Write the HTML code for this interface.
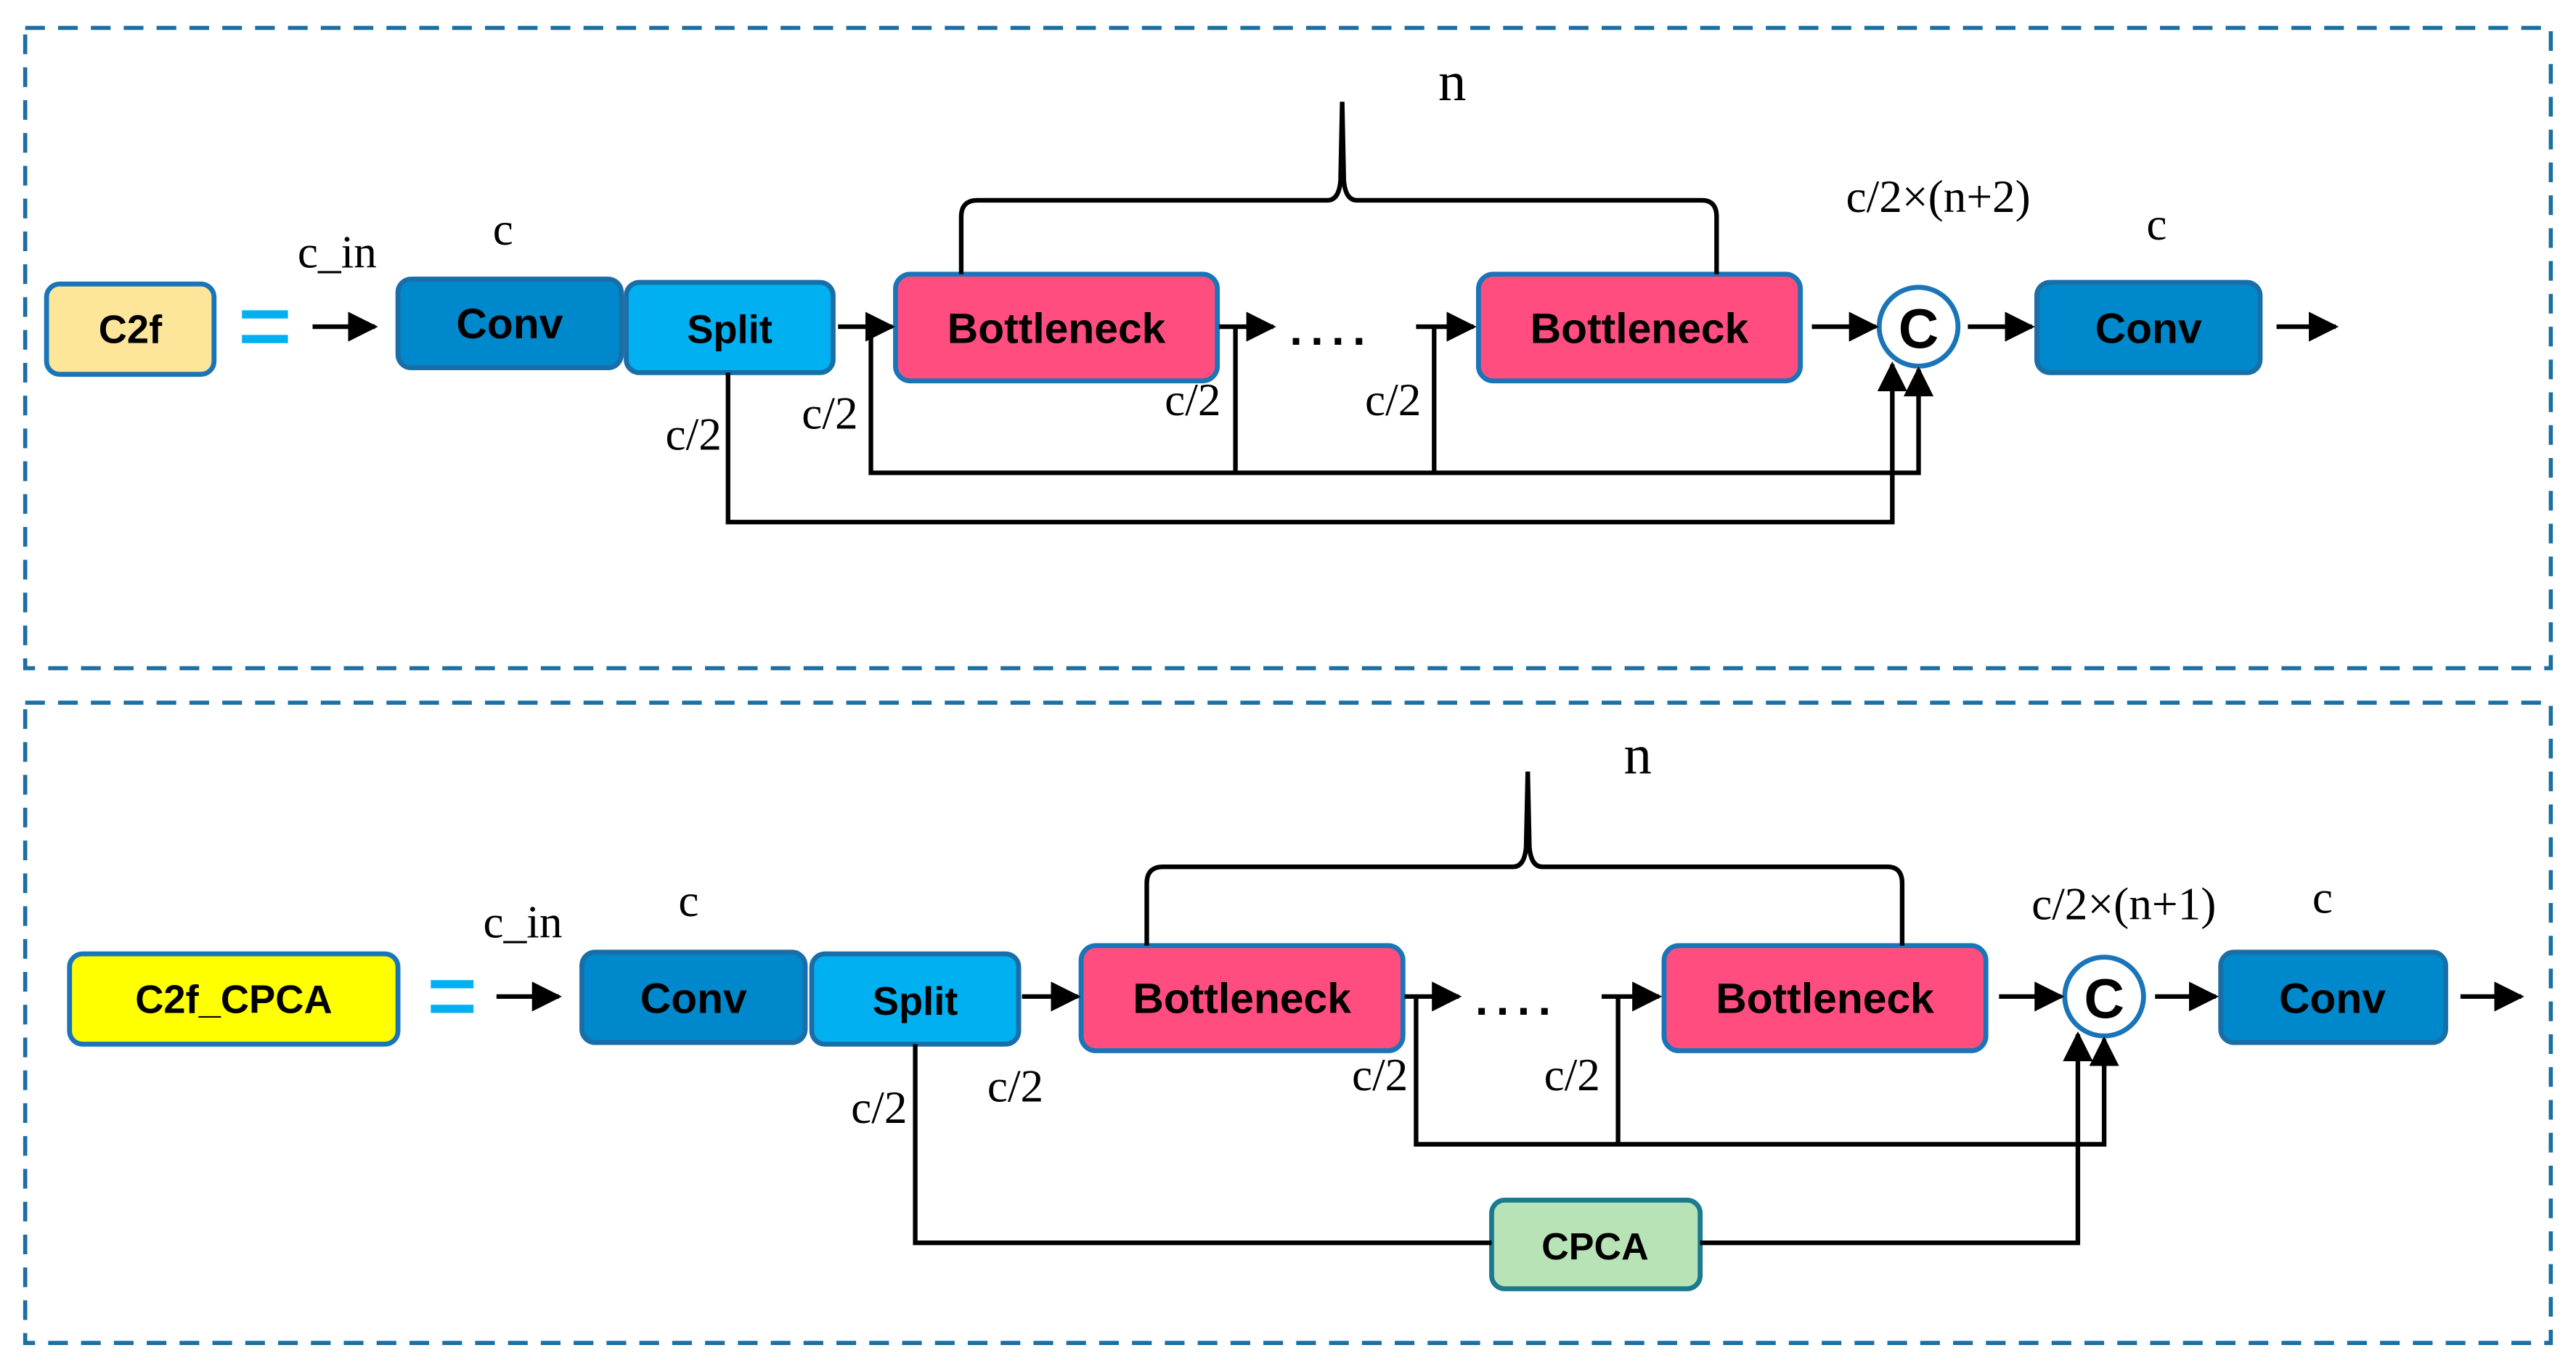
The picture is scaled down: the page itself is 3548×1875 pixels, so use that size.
<!DOCTYPE html>
<html><head><meta charset="utf-8"><style>html,body{margin:0;padding:0;background:#fff}svg{display:block}</style></head>
<body>
<svg width="3548" height="1875" viewBox="0 0 1568 829" xmlns="http://www.w3.org/2000/svg">
<defs>
<marker id="ah" viewBox="0 0 10 10" refX="9" refY="5" markerWidth="6.5" markerHeight="6.5" orient="auto" markerUnits="strokeWidth"><path d="M0,0 L10,5 L0,10 z" fill="#000"/></marker>
</defs>
<rect x="15" y="17" width="1538" height="390" fill="none" stroke="#1b6fa3" stroke-width="2.5" stroke-dasharray="12,8"/>
<rect x="15" y="428" width="1538" height="390" fill="none" stroke="#1b6fa3" stroke-width="2.5" stroke-dasharray="12,8"/>

<g font-family="'Liberation Sans', sans-serif" font-weight="bold" text-anchor="middle" fill="#000">
<rect x="28" y="173" width="102" height="55" rx="8" fill="#fde59a" stroke="#1a75b8" stroke-width="3"/>
<text x="79" y="209" font-size="24">C2f</text>
<rect x="147" y="189" width="28" height="5" fill="#00b0f0"/><rect x="147" y="204" width="28" height="5" fill="#00b0f0"/>
<rect x="242" y="170" width="136" height="54" rx="8" fill="#0088cc" stroke="#1a6ea8" stroke-width="3"/>
<text x="310" y="206" font-size="26">Conv</text>
<rect x="381" y="172" width="126" height="55" rx="8" fill="#00b0f0" stroke="#1a6ea8" stroke-width="3"/>
<text x="444" y="209" font-size="24">Split</text>
<rect x="545" y="167" width="196" height="65" rx="9" fill="#ff4d80" stroke="#1a75b8" stroke-width="3"/>
<text x="643" y="209" font-size="26">Bottleneck</text>
<rect x="900" y="167" width="196" height="65" rx="9" fill="#ff4d80" stroke="#1a75b8" stroke-width="3"/>
<text x="998" y="209" font-size="26">Bottleneck</text>
<circle cx="1168" cy="199" r="24" fill="#fff" stroke="#1a75b8" stroke-width="3"/>
<text x="1168" y="212" font-size="34">C</text>
<rect x="1240" y="172" width="136" height="55" rx="8" fill="#0088cc" stroke="#1a6ea8" stroke-width="3"/>
<text x="1308" y="209" font-size="26">Conv</text>
<rect x="42" y="581" width="200" height="55" rx="8" fill="#ffff00" stroke="#1a75b8" stroke-width="3"/>
<text x="142" y="617" font-size="24">C2f_CPCA</text>
<rect x="262" y="597" width="26" height="5" fill="#00b0f0"/><rect x="262" y="612" width="26" height="5" fill="#00b0f0"/>
<rect x="354" y="580" width="136" height="55" rx="8" fill="#0088cc" stroke="#1a6ea8" stroke-width="3"/>
<text x="422" y="617" font-size="26">Conv</text>
<rect x="494" y="581" width="126" height="55" rx="8" fill="#00b0f0" stroke="#1a6ea8" stroke-width="3"/>
<text x="557" y="618" font-size="24">Split</text>
<rect x="658" y="576" width="196" height="64" rx="9" fill="#ff4d80" stroke="#1a75b8" stroke-width="3"/>
<text x="756" y="617" font-size="26">Bottleneck</text>
<rect x="1013" y="576" width="196" height="64" rx="9" fill="#ff4d80" stroke="#1a75b8" stroke-width="3"/>
<text x="1111" y="617" font-size="26">Bottleneck</text>
<circle cx="1281" cy="607" r="24" fill="#fff" stroke="#1a75b8" stroke-width="3"/>
<text x="1281" y="620" font-size="34">C</text>
<rect x="1352" y="580" width="137" height="55" rx="8" fill="#0088cc" stroke="#1a6ea8" stroke-width="3"/>
<text x="1420" y="617" font-size="26">Conv</text>
<rect x="908" y="731" width="127" height="54" rx="8" fill="#b8e3b6" stroke="#1a7a90" stroke-width="3"/>
<text x="971" y="767" font-size="23">CPCA</text>
</g>

<g stroke="#000" stroke-width="2.8" fill="none">
<line x1="190" y1="199" x2="228" y2="199" marker-end="url(#ah)"/>
<line x1="510" y1="199" x2="543" y2="199" marker-end="url(#ah)"/>
<line x1="742" y1="199" x2="775" y2="199" marker-end="url(#ah)"/>
<line x1="862" y1="199" x2="897" y2="199" marker-end="url(#ah)"/>
<line x1="1103" y1="199" x2="1142" y2="199" marker-end="url(#ah)"/>
<line x1="1198" y1="199" x2="1237" y2="199" marker-end="url(#ah)"/>
<line x1="1386" y1="199" x2="1422" y2="199" marker-end="url(#ah)"/>
<polyline points="443,227 443,318 1152,318 1152,222" marker-end="url(#ah)"/>
<polyline points="530,199 530,288 1168,288 1168,225" marker-end="url(#ah)"/>
<line x1="752" y1="199" x2="752" y2="288"/>
<line x1="873" y1="199" x2="873" y2="288"/>
<path d="M585,167 L585,132 Q585,122 595,122 L808,122 Q815,122 816,110 L817,62 L818,110 Q819,122 826,122 L1036,122 Q1045,122 1045,132 L1045,167"/>
<line x1="302" y1="607" x2="340" y2="607" marker-end="url(#ah)"/>
<line x1="622" y1="607" x2="656" y2="607" marker-end="url(#ah)"/>
<line x1="855" y1="607" x2="888" y2="607" marker-end="url(#ah)"/>
<line x1="975" y1="607" x2="1010" y2="607" marker-end="url(#ah)"/>
<line x1="1217" y1="607" x2="1255" y2="607" marker-end="url(#ah)"/>
<line x1="1312" y1="607" x2="1349" y2="607" marker-end="url(#ah)"/>
<line x1="1498" y1="607" x2="1535" y2="607" marker-end="url(#ah)"/>
<polyline points="557,636 557,757 908,757"/>
<polyline points="1035,757 1265,757 1265,630" marker-end="url(#ah)"/>
<polyline points="862,607 862,697 1281,697 1281,633" marker-end="url(#ah)"/>
<line x1="985" y1="607" x2="985" y2="697"/>
<path d="M698,576 L698,538 Q698,528 708,528 L921,528 Q928,528 929,516 L930,470 L931,516 Q932,528 939,528 L1149,528 Q1158,528 1158,538 L1158,576"/>
</g>

<g font-family="'Liberation Sans', sans-serif" font-weight="bold" font-size="28" fill="#000">
<text x="785" y="210" letter-spacing="5">....</text>
<text x="898" y="618" letter-spacing="5">....</text>
</g>

<g font-family="'Liberation Serif', serif" font-size="28" fill="#000" text-anchor="middle">
<text x="205" y="163">c_in</text>
<text x="306" y="149">c</text>
<text x="884" y="61" font-size="34">n</text>
<text x="1180" y="129">c/2×(n+2)</text>
<text x="1313" y="146">c</text>
<text x="422" y="274">c/2</text>
<text x="505" y="261">c/2</text>
<text x="726" y="253">c/2</text>
<text x="848" y="253">c/2</text>
<text x="318" y="571">c_in</text>
<text x="419" y="558">c</text>
<text x="997" y="471" font-size="34">n</text>
<text x="1293" y="560">c/2×(n+1)</text>
<text x="1414" y="556">c</text>
<text x="535" y="684">c/2</text>
<text x="618" y="671">c/2</text>
<text x="840" y="664">c/2</text>
<text x="957" y="664">c/2</text>
</g>
</svg>
</body></html>
